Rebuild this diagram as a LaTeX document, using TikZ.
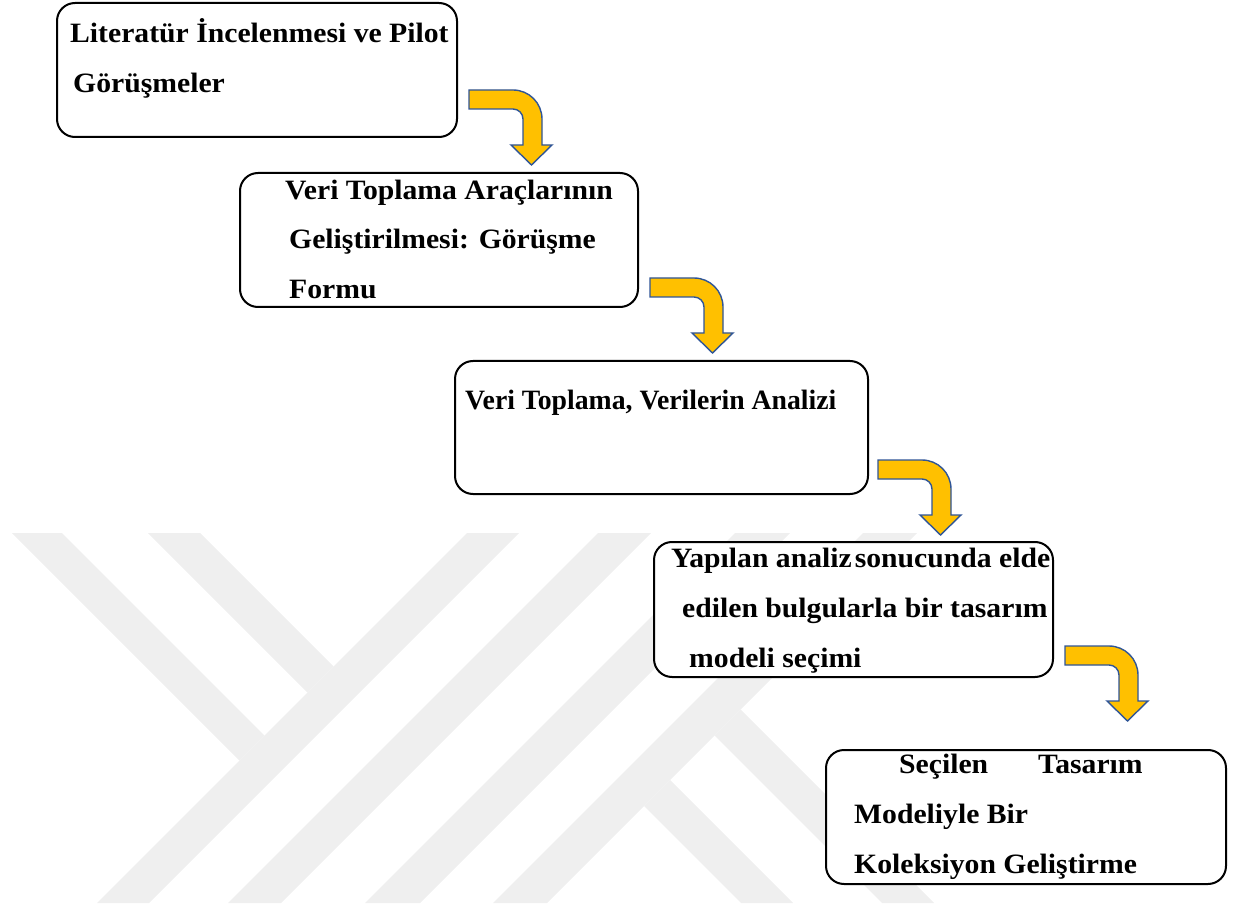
\documentclass[tikz,border=0pt]{standalone}
\usepackage{fontspec}
\setmainfont{Liberation Serif}[FakeStretch=1.06]
\newfontfamily\narrowserif{Liberation Serif}[FakeStretch=0.99]
\usepackage{tikz}
\usetikzlibrary{positioning, calc}
\definecolor{arrowfill}{RGB}{255,192,0}
\definecolor{arrowline}{RGB}{47,85,151}
\definecolor{markgray}{RGB}{239,239,239}
\tikzstyle{stage} = [rectangle, rounded corners=18pt, minimum width=400pt, minimum height=134pt, draw=black, fill=white, line width=2pt]
\tikzstyle{stagetext} = [anchor=base west, inner sep=0pt, align=left, font=\fontsize{28}{50}\selectfont\bfseries]
\tikzstyle{bent} = [fill=arrowfill, draw=arrowline, line width=1.4pt, line join=miter]
\tikzset{bentarrow/.pic={
    \path[bent] (0,0) -- (44,0) arc[start angle=-90, end angle=0, radius=29]
        -- (73,55) -- (83,55) -- (62.5,75) -- (42,55) -- (54,55) -- (54,29)
        arc[start angle=0, end angle=-90, radius=10] -- (0,19) -- cycle;
}}

\begin{document}
\begin{tikzpicture}[x=1pt, y=-1pt]
    \useasboundingbox (0,0) rectangle (1248,909);
    % Watermark
    \fill[markgray] (12,533) -- (62,533) -- (264.5,735.5) -- (239.5,760.5) -- cycle;
    \fill[markgray] (148,533) -- (200,533) -- (333.5,666.5) -- (307.5,692.5) -- cycle;
    \fill[markgray] (467,533) -- (519,533) -- (149,903) -- (97,903) -- cycle;
    \fill[markgray] (598,533) -- (651,533) -- (281,903) -- (228,903) -- cycle;
    \fill[markgray] (735,533) -- (790,533) -- (420,903) -- (365,903) -- cycle;
    \fill[markgray] (863,533) -- (917,533) -- (547,903) -- (493,903) -- cycle;
    \fill[markgray] (740.5,709.5) -- (934,903) -- (882,903) -- (714.5,735.5) -- cycle;
    \fill[markgray] (670,780) -- (793,903) -- (741,903) -- (644,806) -- cycle;

    % Stages
    \node[stage] (lit) at (257,70) {};
    \node[stage, minimum width=398pt] (tool) at (439,240) {};
    \node[stage, minimum width=413pt, minimum height=133pt] (analysis) at (661.5,427.5) {};
    \node[stage, minimum width=399pt, minimum height=135pt] (model) at (853.5,609.5) {};
    \node[stage] (collection) at (1026,817) {};

    \node[stagetext] (littext) at ($(lit.north west)+(14,91)$)
        {Literatür İncelenmesi ve Pilot\\\hspace*{3pt}Görüşmeler};
    \node[stagetext] (tooltext) at ($(tool.north west)+(46,127)$)
        {Veri Toplama Araçlarının\\\hspace*{4pt}Geliştirilmesi: Görüşme\\\hspace*{4pt}Formu};
    \node[stagetext, font=\fontsize{28}{50}\narrowserif\bfseries] (analysistext) at ($(analysis.north west)+(11,49)$)
        {Veri Toplama, Verilerin Analizi};
    \node[stagetext] (modeltext) at ($(model.north west)+(18,126)$)
        {Yapılan analiz\hspace{3pt}sonucunda elde\\\hspace*{11pt}edilen bulgularla bir tasarım\\\hspace*{18pt}modeli seçimi};
    \node[stagetext] (collectiontext) at ($(collection.north west)+(29,124)$)
        {\hspace*{45pt}Seçilen\hspace{50pt}Tasarım\\Modeliyle Bir\\Koleksiyon Geliştirme};

    % Arrows
    \coordinate (a1) at ($(lit.south east)+(11,-48)$);
    \coordinate (a2) at ($(tool.south east)+(11,-30)$);
    \coordinate (a3) at ($(analysis.south east)+(9,-35)$);
    \coordinate (a4) at ($(model.south east)+(11,-32)$);
    \foreach \a in {a1,a2,a3,a4}
        \pic at (\a) {bentarrow};
\end{tikzpicture}
\end{document}
